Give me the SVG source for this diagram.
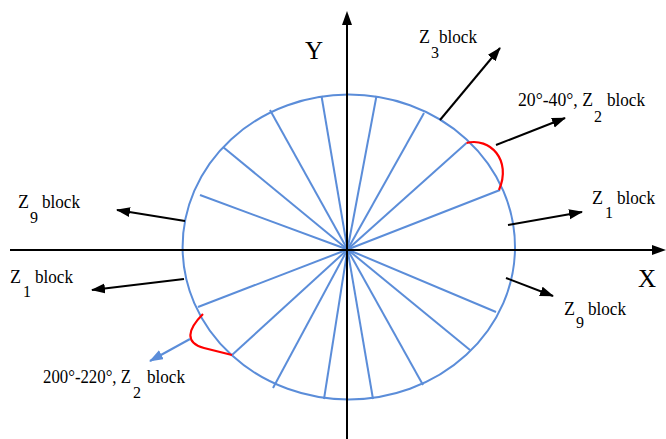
<svg xmlns="http://www.w3.org/2000/svg" width="666" height="439" viewBox="0 0 666 439">
<defs>
<style>
.ax{stroke:#000;stroke-width:2;fill:none}
.ar{stroke:#000;stroke-width:2;fill:none;marker-end:url(#ah)}
.sp{stroke:#5B8DD9;stroke-width:2;fill:none}
.rd{stroke:#FF0000;stroke-width:2.2;fill:none}
.lb{font-size:18px}
.sb{font-size:16px}
.big{font-size:25px}
</style>
<marker id="ah" markerUnits="userSpaceOnUse" markerWidth="16" markerHeight="12" refX="13" refY="5" orient="auto">
<path d="M0,0 L14,5 L0,10 z" fill="#000"/>
</marker>
<marker id="ahb" markerUnits="userSpaceOnUse" markerWidth="16" markerHeight="12" refX="13" refY="5" orient="auto">
<path d="M0,0 L14,5 L0,10 z" fill="#5B8DD9"/>
</marker>
</defs>
<g id="wheel">
<ellipse class="sp" cx="348.8" cy="247" rx="166.2" ry="152.5"/>
<g class="sp">
<line x1="347.5" y1="249.5" x2="500" y2="190"/>
<line x1="347.5" y1="249.5" x2="466.5" y2="143"/>
<line x1="347.5" y1="249.5" x2="424" y2="113"/>
<line x1="347.5" y1="249.5" x2="376.5" y2="96"/>
<line x1="347.5" y1="249.5" x2="321.5" y2="96"/>
<line x1="347.5" y1="249.5" x2="270" y2="110"/>
<line x1="347.5" y1="249.5" x2="223" y2="147"/>
<line x1="347.5" y1="249.5" x2="200" y2="195"/>
<line x1="347.5" y1="249.5" x2="198" y2="307"/>
<line x1="347.5" y1="249.5" x2="232" y2="355"/>
<line x1="347.5" y1="249.5" x2="273" y2="388"/>
<line x1="347.5" y1="249.5" x2="324" y2="399"/>
<line x1="347.5" y1="249.5" x2="373" y2="399"/>
<line x1="347.5" y1="249.5" x2="423" y2="385"/>
<line x1="347.5" y1="249.5" x2="470" y2="350"/>
<line x1="347.5" y1="249.5" x2="496" y2="312"/>
</g>
</g>
<g id="red-arcs">
<path class="rd" d="M466.5,143 C490,137 512,160 499,190"/>
<path class="rd" d="M203,314 C187,330 185,343 204,348 L232,355"/>
</g>
<g id="connectors">
<line class="ax" x1="10" y1="250" x2="652" y2="250"/>
<path d="M652,245 L666,250 L652,255 z" fill="#000"/>
<line class="ax" x1="347" y1="439" x2="347" y2="24"/>
<path d="M342,25 L347,11 L352,25 z" fill="#000"/>
<line class="ar" x1="440" y1="120" x2="500" y2="48"/>
<line class="ar" x1="496" y1="145" x2="565" y2="118"/>
<line class="ar" x1="508" y1="225" x2="582" y2="212"/>
<line class="ar" x1="506" y1="278" x2="553" y2="296"/>
<line class="ar" x1="185" y1="221" x2="117" y2="210"/>
<line class="ar" x1="184" y1="279" x2="92" y2="290"/>
<line x1="190" y1="339" x2="150" y2="361" stroke="#5B8DD9" stroke-width="2" marker-end="url(#ahb)"/>
</g>
<g font-family="Liberation Serif, Times New Roman, DejaVu Serif, serif" fill="#000">
<g id="axis-labels">
<text class="big" x="305" y="59">Y</text>
<text class="big" x="638" y="287">X</text>
</g>
<g id="label-z3">
<text class="lb" x="419" y="43">Z</text><text class="sb" x="431" y="58">3</text><text class="lb" x="439" y="43" textLength="38" lengthAdjust="spacingAndGlyphs">block</text>
</g>
<g id="label-z2-upper">
<text class="lb" x="518" y="106" textLength="75" lengthAdjust="spacingAndGlyphs">20°-40°, Z</text><text class="sb" x="594" y="122">2</text><text class="lb" x="607" y="106" textLength="38" lengthAdjust="spacingAndGlyphs">block</text>
</g>
<g id="label-z1-right">
<text class="lb" x="592" y="204">Z</text><text class="sb" x="605" y="218">1</text><text class="lb" x="617" y="204" textLength="38" lengthAdjust="spacingAndGlyphs">block</text>
</g>
<g id="label-z9-right">
<text class="lb" x="564" y="315">Z</text><text class="sb" x="576" y="328">9</text><text class="lb" x="588" y="315" textLength="38" lengthAdjust="spacingAndGlyphs">block</text>
</g>
<g id="label-z9-left">
<text class="lb" x="18" y="208">Z</text><text class="sb" x="30" y="223">9</text><text class="lb" x="42" y="208" textLength="38" lengthAdjust="spacingAndGlyphs">block</text>
</g>
<g id="label-z1-left">
<text class="lb" x="10" y="283">Z</text><text class="sb" x="23" y="297">1</text><text class="lb" x="35" y="283" textLength="38" lengthAdjust="spacingAndGlyphs">block</text>
</g>
<g id="label-z2-lower">
<text class="lb" x="43" y="383" textLength="88" lengthAdjust="spacingAndGlyphs">200°-220°, Z</text><text class="sb" x="133" y="398">2</text><text class="lb" x="147" y="383" textLength="38" lengthAdjust="spacingAndGlyphs">block</text>
</g>
</g>
</svg>
